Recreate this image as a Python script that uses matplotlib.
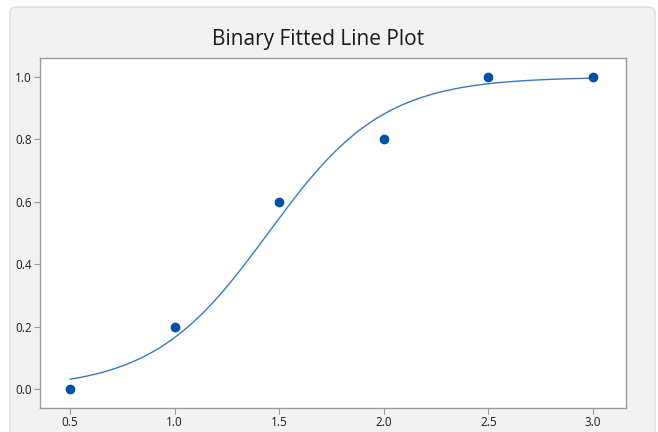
import numpy as np
import matplotlib
matplotlib.use('Agg')
import matplotlib.pyplot as plt
from matplotlib.patches import FancyBboxPatch

# observed proportions (events / trials)
x_vals = [0.5, 1.0, 1.5, 2.0, 2.5, 3.0]
y_vals = [0.0, 0.2, 0.6, 0.8, 1.0, 1.0]
trials = [5, 5, 5, 5, 5, 5]
x_ticks = [0.5, 1.0, 1.5, 2.0, 2.5, 3.0]
y_ticks = [0.0, 0.2, 0.4, 0.6, 0.8, 1.0]

# binary logistic fit (IRLS)
X = np.column_stack([np.ones(len(x_vals)), x_vals])
y = np.array(y_vals)
n = np.array(trials, dtype=float)
b = np.zeros(2)
for _ in range(50):
    p = 1 / (1 + np.exp(-X @ b))
    W = n * p * (1 - p)
    grad = X.T @ (n * (y - p))
    H = X.T @ (X * W[:, None])
    b = b + np.linalg.solve(H, grad)

xs = np.linspace(min(x_vals), max(x_vals), 200)
fit = 1 / (1 + np.exp(-(b[0] + b[1] * xs)))

plt.rcParams['font.family'] = ['Open Sans', 'DejaVu Sans']
fig = plt.figure(figsize=(6.58, 4.32), dpi=100)
fig.patch.set_facecolor('white')

# gray panel behind the chart
panel = FancyBboxPatch((10/658, -0.05), 645/658, (432 - 7)/432 + 0.05,
                       boxstyle='round,pad=0,rounding_size=0.012',
                       transform=fig.transFigure, facecolor='#f2f2f2',
                       edgecolor='#dcdcdc', linewidth=1, zorder=-5)
fig.patches.append(panel)

ax = fig.add_axes([40/658, 24/432, 586/658, 350/432])
ax.set_zorder(1)
ax.set_facecolor('white')
ax.plot(xs, fit, color='#3a78c2', linewidth=1)
ax.plot(x_vals, y_vals, 'o', color='#0052a5', markersize=6)

ax.set_xlim(0.356, 3.158)
ax.set_ylim(-0.061, 1.061)
ax.set_xticks(x_ticks)
ax.set_yticks(y_ticks)
ax.set_xticklabels([f'{t:.1f}' for t in x_ticks])
ax.set_yticklabels([f'{t:.1f}' for t in y_ticks])
ax.tick_params(colors='#9a9a9a', labelcolor='#1e1e1e', labelsize=8.5, length=4, width=0.8, pad=2)
for s in ax.spines.values():
    s.set_color('#9a9a9a')
    s.set_linewidth(1)

fig.text(318/658, (432 - 39)/432, 'Binary Fitted Line Plot', ha='center', va='center',
         fontsize=15, color='#1a1a1a')

fig.savefig('out.png', dpi=100)
